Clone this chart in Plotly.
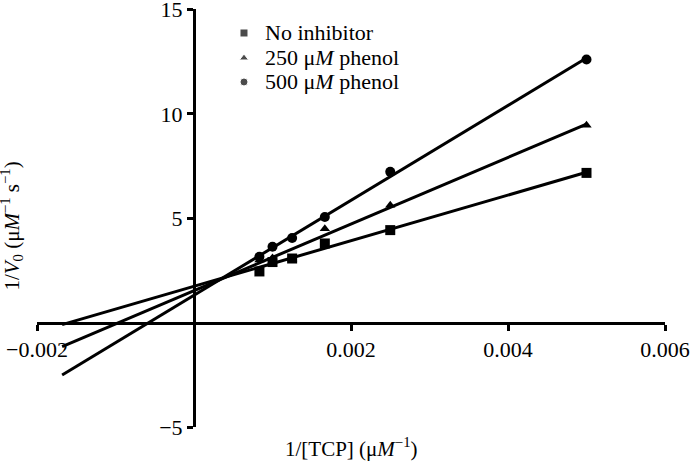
import numpy as np
import plotly.graph_objects as go

# 1/[TCP] values (uM^-1)
inv_tcp = [1/1200, 1/1000, 1/800, 1/600, 1/400, 1/200]

# 1/V0 for each condition
no_inhib = [2.45, 2.9, 3.07, 3.79, 4.43, 7.17]
phenol_250 = [3.0, 3.1, 3.05, 4.5, 5.62, 9.45]
phenol_500 = [3.15, 3.63, 4.05, 5.06, 7.22, 12.6]

# extent of the fitted lines
line_x = [-0.00168, 0.005]

names = ["No inhibitor", "250 μ<i>M</i> phenol", "500 μ<i>M</i> phenol"]
symbols = ["square", "triangle-up", "circle"]
sizes = [10, 9, 10]
data = [no_inhib, phenol_250, phenol_500]

font = "Liberation Serif"

fig = go.Figure()

for vals, sym, sz in zip(data, symbols, sizes):
    m, b = np.polyfit(inv_tcp, vals, 1)
    lx = np.array(line_x)
    fig.add_trace(go.Scatter(x=lx, y=m*lx+b, mode='lines',
                             line=dict(color='black', width=3), showlegend=False))
    fig.add_trace(go.Scatter(x=inv_tcp, y=vals, mode='markers', showlegend=False,
                             marker=dict(symbol=sym, size=sz, color='black')))

# legend keys (drawn on a hidden overlay axis so rows can sit close together)
leg_x = 0.3296
leg_y = [0.9426, 0.8828, 0.8254]
fig.add_trace(go.Scatter(x=[leg_x]*3, y=leg_y, mode='markers', showlegend=False,
                         xaxis='x2', yaxis='y2', hoverinfo='skip',
                         marker=dict(symbol=symbols, size=[8, 8, 8], color='black')))
for name, yy in zip(names, leg_y):
    fig.add_annotation(text=name, xref='paper', yref='paper', x=0.36, y=yy,
                       xanchor='left', yanchor='middle', showarrow=False,
                       font=dict(family=font, size=22, color='black'))

axis_common = dict(showgrid=False, zeroline=False, showline=True, linecolor='black',
                   linewidth=3, ticks='outside', ticklen=6, tickwidth=3, tickcolor='black',
                   ticklabeloverflow='allow',
                   tickfont=dict(family=font, size=22, color='black'))

fig.update_xaxes(range=[-0.002, 0.006], tickvals=[-0.002, 0.002, 0.004, 0.006],
                 ticktext=['−0.002', '0.002', '0.004', '0.006'],
                 anchor='free', position=0.25, **axis_common)
fig.update_yaxes(range=[-5, 15.02], tickvals=[-5, 5, 10, 15],
                 anchor='free', position=0.25, **axis_common)

fig.add_annotation(text="1/[TCP] (μ<i>M</i><sup>−1</sup>)", xref='paper', yref='paper',
                   x=0.5, y=-0.05, yanchor='middle', showarrow=False,
                   font=dict(family=font, size=21, color='black'))
fig.add_annotation(text="1/<i>V</i><sub>0</sub> (μ<i>M</i><sup>−1</sup> s<sup>−1</sup>)",
                   xref='paper', yref='paper', x=-0.041, y=0.48, xanchor='center',
                   yanchor='middle', textangle=-90,
                   showarrow=False, font=dict(family=font, size=21, color='black'))

fig.update_layout(
    width=692, height=462,
    margin=dict(l=37, r=27, t=9, b=35, autoexpand=False),
    plot_bgcolor='white', paper_bgcolor='white',
    showlegend=False,
    xaxis2=dict(overlaying='x', range=[0, 1], visible=False, anchor='y2'),
    yaxis2=dict(overlaying='y', range=[0, 1], visible=False, anchor='x2'),
)

# drop the page's default body margin so the figure fills the window exactly
fig.write_html("out.html", config={'displayModeBar': False},
               post_script="document.body.style.margin = '0';")
